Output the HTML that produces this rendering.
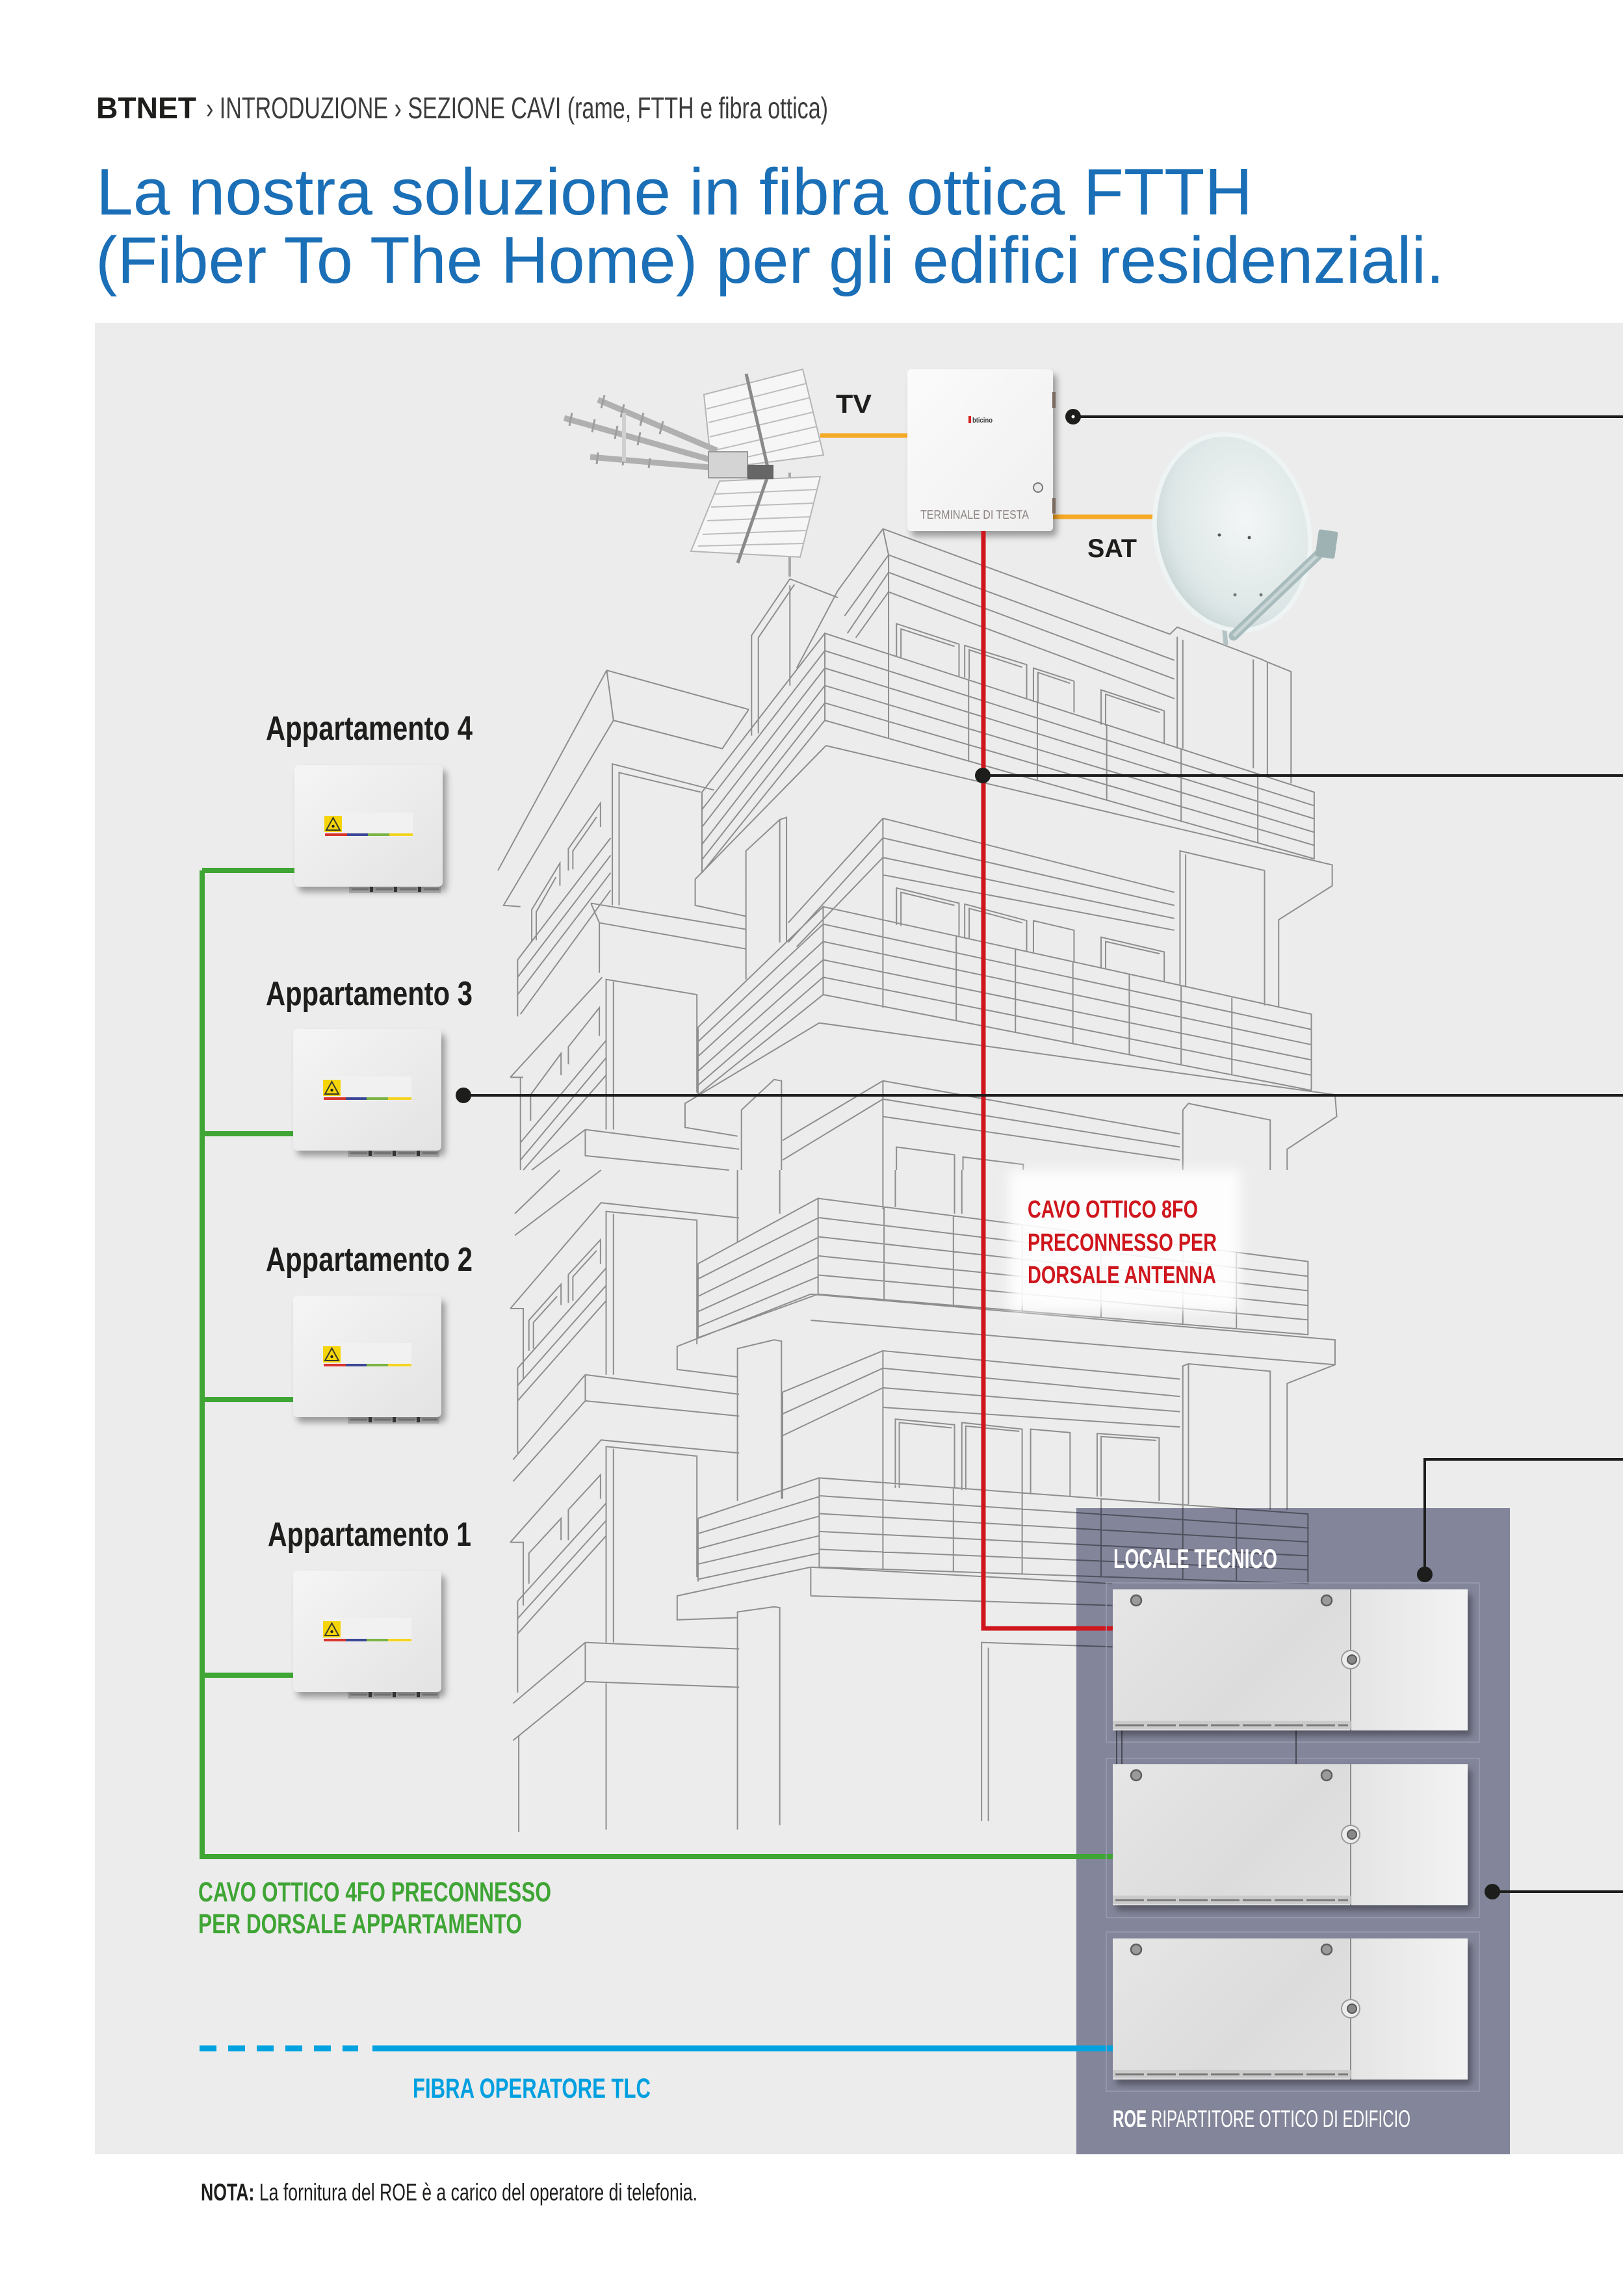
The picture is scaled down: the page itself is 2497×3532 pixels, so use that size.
<!DOCTYPE html>
<html><head><meta charset="utf-8">
<style>
html,body{margin:0;padding:0;background:#fff;}
svg{display:block;}
.b path{vector-effect:non-scaling-stroke;}
.nar{font-family:"Liberation Sans Narrow","Liberation Sans",sans-serif;}
.reg{font-family:"Liberation Sans",sans-serif;}
</style></head>
<body>
<svg width="2497" height="3532" viewBox="0 0 2497 3532" xmlns="http://www.w3.org/2000/svg">
<defs>
  <linearGradient id="gApt" x1="0" y1="0" x2="1" y2="1">
    <stop offset="0" stop-color="#f5f5f5"/><stop offset="1" stop-color="#e3e3e3"/>
  </linearGradient>
  <linearGradient id="gRoe" x1="0" y1="0" x2="1" y2="0.4">
    <stop offset="0" stop-color="#e6e6e6"/><stop offset="0.55" stop-color="#dcdcdc"/><stop offset="1" stop-color="#e4e4e4"/>
  </linearGradient>
  <linearGradient id="gRoe2" x1="0" y1="0" x2="1" y2="0">
    <stop offset="0" stop-color="#e4e4e4"/><stop offset="1" stop-color="#f3f3f3"/>
  </linearGradient>
  <linearGradient id="gTerm" x1="0" y1="0" x2="1" y2="1">
    <stop offset="0" stop-color="#fbfbfb"/><stop offset="1" stop-color="#efefef"/>
  </linearGradient>
  <radialGradient id="gDish" cx="0.6" cy="0.45" r="0.65">
    <stop offset="0" stop-color="#f3f6f6"/><stop offset="0.75" stop-color="#dde6e6"/><stop offset="1" stop-color="#c3d1d1"/>
  </radialGradient>
  <filter id="sh" x="-15%" y="-15%" width="140%" height="140%">
    <feDropShadow dx="6" dy="8" stdDeviation="5" flood-color="#000" flood-opacity="0.35"/>
  </filter>
  <filter id="bl" x="-20%" y="-20%" width="140%" height="140%">
    <feGaussianBlur stdDeviation="9"/>
  </filter>

  <g id="apt">
    <rect x="84" y="184" width="141" height="13" fill="#c4c4c4"/>
    <path d="M88,191 H222" stroke="#9a9a9a" stroke-width="3" stroke-dasharray="26 11"/>
    <rect x="0" y="0" width="228" height="187" rx="7" fill="url(#gApt)" filter="url(#sh)"/>
    <rect x="116" y="187" width="5" height="8" fill="#333"/>
    <rect x="153" y="187" width="5" height="8" fill="#333"/>
    <rect x="190" y="187" width="5" height="8" fill="#333"/>
    <rect x="45" y="73" width="137" height="37" fill="#f1f1f1"/>
    <rect x="46" y="78" width="27" height="25" fill="#f5d40a"/>
    <path d="M59.5,81 L70,100 L49,100 Z" fill="none" stroke="#3a3a2a" stroke-width="2"/>
    <circle cx="59.5" cy="94" r="2.2" fill="#222"/>
    <rect x="47" y="105" width="34" height="4" fill="#d8352e"/>
    <rect x="81" y="105" width="32" height="4" fill="#3c4896"/>
    <rect x="113" y="105" width="33" height="4" fill="#7bb446"/>
    <rect x="146" y="105" width="36" height="4" fill="#f3d321"/>
  </g>

  <g id="roe">
    <rect x="0" y="0" width="546" height="217" fill="url(#gRoe)" filter="url(#sh)"/>
    <rect x="366" y="0" width="180" height="217" fill="url(#gRoe2)"/>
    <line x1="366" y1="0" x2="366" y2="217" stroke="#8a8a8a" stroke-width="2"/>
    <circle cx="36" cy="17" r="8" fill="#9a9a9a" stroke="#5e5e5e" stroke-width="2.5"/>
    <circle cx="329" cy="17" r="8" fill="#9a9a9a" stroke="#5e5e5e" stroke-width="2.5"/>
    <circle cx="366" cy="108" r="14" fill="#ececec" stroke="#9a9a9a" stroke-width="2"/>
    <circle cx="368" cy="108" r="7" fill="#888" stroke="#555" stroke-width="2"/>
    <rect x="0" y="202" width="366" height="13" fill="#cbcbcb"/>
    <path d="M4,209 H362" stroke="#7a7a7a" stroke-width="3" stroke-dasharray="44 5"/>
  </g>
</defs>

<!-- backgrounds -->
<rect x="0" y="0" width="2497" height="3532" fill="#ffffff"/>
<rect x="146" y="497" width="2351" height="2817" fill="#ececec"/>

<!-- header -->
<text class="nar" x="148" y="182" font-size="46" font-weight="bold" fill="#1d1d1b" textLength="154" lengthAdjust="spacingAndGlyphs">BTNET</text>
<text class="nar" x="317" y="182" font-size="46" fill="#3c3c3c" textLength="957" lengthAdjust="spacingAndGlyphs">› INTRODUZIONE › SEZIONE CAVI (rame, FTTH e fibra ottica)</text>
<text class="reg" x="148" y="330" font-size="101" fill="#1a6fb7" textLength="1779" lengthAdjust="spacingAndGlyphs">La nostra soluzione in fibra ottica FTTH</text>
<text class="reg" x="147" y="435" font-size="101" fill="#1a6fb7" textLength="2075" lengthAdjust="spacingAndGlyphs">(Fiber To The Home) per gli edifici residenziali.</text>

<!-- building (upper part) -->
<g class="b" transform="translate(740,780) scale(0.8673,0.6697)" fill="none" stroke="#8e8e8e" stroke-width="2">
<path d="
M548,165 L633,208 M548,165 L480,295 L480,525 M556,178 L492,300 L492,520 M548,180 L548,410
M713,50 L1222,292 L1235,276 L1385,350 L1395,356 L1437,378 L1437,635
M713,50 L723,110 L1230,352 M723,150 L1230,395 M723,195 L1230,440
M1235,298 L1235,555 M1245,305 L1245,555 M1370,350 L1370,600 M1395,358 L1395,615
M713,50 L633,192 L560,370 M723,110 L645,250 M723,150 L650,290 M723,195 L665,300 M723,110 L723,525
M737,345 L737,268 L848,315 L848,390 M745,348 L745,280 L840,320
M858,392 L858,318 L968,362 L968,440 M866,395 L866,328 L960,368
M980,448 L980,370 L1052,400 L1052,472 M988,450 L988,380 L1045,405
M1100,500 L1100,420 L1212,468 L1212,545 M1108,503 L1108,430 L1204,472
M610,290 L1478,655 L1478,808 L610,490 Z
M610,330 L1478,686 M610,370 L1478,716 M610,410 L1478,747 M610,450 L1478,777
M723,337 L723,531 M865,397 L865,583 M987,448 L987,628 M1110,500 L1110,673 M1242,556 L1242,721 M1378,613 L1378,771
M610,290 L392,655 M610,330 L392,695 M610,370 L392,735 M610,410 L392,775 M610,450 L392,810 M610,490 L392,840 M392,655 L392,840
M612,548 L1510,822 L1510,870 L1415,948 L1415,1150
M612,548 L380,855 L380,915 L470,940
M470,1085 L470,790 L530,718 L542,713 L542,1000 M530,718 L530,1000
M713,715 L713,1150 M713,715 L1230,885 M713,760 L1230,915 M713,805 L1230,945 M713,845 L1230,972
M713,715 L545,955 M713,760 L545,1000 M713,805 L560,1010
M1240,1100 L1240,790 L1390,835 L1390,1145 M1250,1100 L1250,798
M737,960 L737,875 L848,910 L848,985 M745,962 L745,885 L840,915
M858,990 L858,912 L968,950 L968,1020 M866,992 L866,922 L960,955
M980,1025 L980,950 L1052,972 L1052,1045
M1100,1060 L1100,988 L1212,1022 L1212,1090 M1108,1062 L1108,998 L1204,1026
M607,918 L1473,1165 L1473,1340 L607,1120 Z
M607,958 L1473,1200 M607,998 L1473,1235 M607,1040 L1473,1270 M607,1080 L1473,1305
M713,948 L713,1147 M843,985 L843,1180 M948,1015 L948,1207 M1050,1044 L1050,1232 M1150,1073 L1150,1258 M1242,1099 L1242,1281 M1332,1125 L1332,1304
M607,918 L385,1195 M607,958 L385,1228 M607,998 L385,1262 M607,1040 L385,1296 M607,1080 L385,1328 M607,1120 L385,1350 M385,1195 L385,1350
M600,1185 L1515,1350 L1518,1400 L1430,1475 L1430,1523
M600,1185 L362,1370 L362,1425 L455,1445
M713,1318 L713,1523 M713,1318 L1240,1440 M713,1360 L1240,1470 M713,1400 L1240,1500
M713,1318 L535,1455 M713,1360 L535,1500
M1245,1523 L1245,1385 L1255,1370 L1400,1408 L1400,1523
M462,1523 L462,1385 L520,1315 L533,1318 L533,1523
M737,1523 L737,1470 L840,1488 L840,1523 M855,1523 L855,1493 L962,1510 L962,1523
M30,835 L223,375 L475,465 M223,375 L235,490 L428,555 L475,465 M235,490 L40,915 L70,918
M233,915 L233,590 L413,650 M245,915 L245,610 L390,655
M155,835 L155,785 L212,680 L212,735 M163,832 L163,790 L205,712
M90,1000 L90,925 L140,818 L140,870 M98,995 L98,930 L133,850
M230,760 L65,1040 M230,800 L65,1080 M230,840 L65,1120 M230,880 L70,1165 M65,1040 L65,1170
M195,910 L470,970 M210,955 L470,1015 M195,910 L210,955 L210,1070
M222,1430 L222,1085 L383,1120 L383,1345 M235,1430 L235,1090
M155,1280 L155,1240 L210,1150 L210,1215 M88,1410 L88,1350 L142,1255 L142,1305
M222,1225 L70,1460 M222,1265 L70,1500 M222,1305 L75,1523
M52,1310 L75,1310 M52,1310 L215,1080 M70,1310 L70,1523
M185,1430 L458,1475 M185,1430 L185,1490 L440,1523 M185,1430 L90,1523
"/>
</g>

<!-- building (lower part) -->
<g class="b" transform="translate(740,1800) scale(0.8673,0.6697)" fill="none" stroke="#8e8e8e" stroke-width="2">
<path d="
M60,150 L213,0 M60,100 L140,0
M52,318 L213,75 L458,110 M52,318 L75,318 L75,480
M222,470 L222,95 L383,115 L383,400 M235,470 L235,100
M85,415 L85,345 L142,262 L142,310 M93,410 L93,350 L135,290
M155,305 L155,240 L212,160 L212,215 M163,300 L163,245 L205,185
M65,455 L222,225 M65,495 L222,265 M65,530 L222,300 M65,455 L65,650
M185,470 L458,515 M185,470 L185,530 L458,565 M185,470 L57,665 M185,530 L57,715
M52,855 L213,620 L458,650 M52,855 L75,855 L75,1000
M222,1085 L222,635 L383,657 L383,935 M235,1085 L235,640
M85,950 L85,880 L142,800 L142,850 M155,850 L155,780 L212,700 L212,755
M65,990 L222,765 M65,1030 L222,805 M65,1065 L222,840 M65,990 L65,1200
M185,1085 L458,1100 M185,1085 L185,1175 L458,1188 M185,1085 L57,1225 M185,1175 L57,1310
M67,1300 L67,1520 M222,1175 L222,1515
M455,0 L455,165 M530,0 L530,100
M455,760 L455,410 L520,390 L533,393 L533,755
M455,1515 L455,1015 L520,1003 L530,1005 L530,1505
M713,0 L713,90 M735,0 L735,85 M840,0 L840,100 M853,0 L853,100
M598,65 L1467,210 L1467,378 L598,285 Z
M598,109 L1467,244 M598,153 L1467,277 M598,197 L1467,311 M598,241 L1467,344
M715,85 L715,298 M838,105 L838,311 M960,125 L960,324 M1100,149 L1100,339 M1245,173 L1245,354 M1340,189 L1340,364
M598,65 L385,215 M598,110 L385,250 M598,155 L385,290 M598,200 L385,325 M598,245 L385,360 M598,285 L385,385 M385,215 L385,385
M585,285 L1515,390 L1515,447 L1430,490 L1430,780
M585,345 L1515,447
M585,285 L348,405 L348,458 L455,475
M713,730 L713,415 L1240,480 M713,455 L1240,520 M713,500 L1240,555 M713,545 L1240,590
M713,415 L535,510 M713,455 L535,560 M713,500 L535,610 M535,510 L535,755
M1245,770 L1245,450 L1255,445 L1400,462 L1400,780 M1255,770 L1255,447
M735,730 L735,572 L840,585 L840,730 M742,730 L742,580 L835,592
M853,735 L853,580 L960,595 L960,740 M860,735 L860,588 L955,600
M975,745 L975,595 L1045,603 L1045,750
M1093,750 L1093,605 L1203,615 L1203,760 M1100,750 L1100,612 L1198,621
M600,707 L1467,790 L1467,950 L600,912 Z
M600,748 L1467,822 M600,789 L1467,854 M600,830 L1467,886 M600,871 L1467,918
M713,718 L713,917 M838,730 L838,922 M960,742 L960,928 M1100,755 L1100,934 M1245,769 L1245,940 M1340,778 L1340,944
M600,707 L385,800 M600,750 L385,835 M600,795 L385,870 M600,840 L385,905 M600,880 L385,940 M385,800 L385,945
M585,912 L1120,950 M585,912 L348,978 L348,1033 L455,1028 M585,978 L1120,1000 M585,912 L585,978
M888,1495 L888,1085 L1120,1095 M900,1495 L900,1097
"/>
</g>

<!-- white label area behind red text -->
<rect x="1552" y="1800" width="356" height="217" fill="#ffffff" fill-opacity="0.9" filter="url(#bl)"/>

<!-- locale tecnico dark panel -->
<rect x="1656" y="2320" width="667" height="994" fill="rgb(142,144,167)" style="mix-blend-mode:multiply"/>

<!-- antenna -->
<g>
  <line x1="1215" y1="727" x2="1215" y2="887" stroke="#a8a8a8" stroke-width="4"/>
  <polygon points="1083,607 1235,568 1267,700 1095,722" fill="#f6f6f6" stroke="#b5b5b5" stroke-width="2"/>
  <path d="M1087,629 L1240,590 M1090,650 L1245,612 M1092,672 L1251,634 M1094,694 L1257,656 M1096,715 L1262,678" stroke="#bdbdbd" stroke-width="2" fill="none"/>
  <polygon points="1107,740 1262,733 1231,857 1063,848" fill="#f6f6f6" stroke="#b5b5b5" stroke-width="2"/>
  <path d="M1100,760 L1257,753 M1094,780 L1252,774 M1088,801 L1246,795 M1081,822 L1241,816 M1074,840 L1236,836" stroke="#bdbdbd" stroke-width="2" fill="none"/>
  <line x1="1148" y1="575" x2="1183" y2="727" stroke="#8a8a8a" stroke-width="5"/>
  <line x1="1183" y1="727" x2="1135" y2="866" stroke="#8a8a8a" stroke-width="5"/>
  <path d="M920,615 L1103,693 M868,643 L1103,710 M908,703 L1103,720" stroke="#b0b0b0" stroke-width="9" fill="none"/>
  <path d="M930,608 L925,628 M960,622 L955,642 M990,635 L985,655 M1020,648 L1015,668 M880,635 L876,655 M915,645 L911,665 M950,655 L946,675 M985,665 L981,685 M920,696 L918,714 M960,700 L958,716 M1000,705 L998,720" stroke="#9e9e9e" stroke-width="3" fill="none"/>
  <line x1="960" y1="635" x2="960" y2="710" stroke="#d0d0d0" stroke-width="6"/>
  <rect x="1090" y="695" width="60" height="40" fill="#d4d4d4" stroke="#999" stroke-width="2"/>
  <rect x="1150" y="715" width="40" height="22" fill="#666"/>
</g>

<!-- orange connections -->
<line x1="1262" y1="670" x2="1398" y2="670" stroke="#f6a924" stroke-width="7"/>
<line x1="1618" y1="795" x2="1779" y2="795" stroke="#f6a924" stroke-width="7"/>

<!-- terminale di testa -->
<g>
  <rect x="1396" y="568" width="224" height="249" rx="6" fill="url(#gTerm)" filter="url(#sh)"/>
  <rect x="1619" y="603" width="5" height="25" fill="#7c6c62"/>
  <rect x="1619" y="766" width="5" height="24" fill="#7c6c62"/>
  <rect x="1490" y="640" width="4" height="11" fill="#d4221e"/>
  <text class="nar" x="1496" y="650" font-size="11" font-weight="bold" fill="#3a3a3a" textLength="31" lengthAdjust="spacingAndGlyphs">bticino</text>
  <circle cx="1597" cy="750" r="7" fill="#e9e9e9" stroke="#777" stroke-width="2"/>
  <text class="nar" x="1416" y="798" font-size="18" fill="#8e8583" textLength="167" lengthAdjust="spacingAndGlyphs">TERMINALE DI TESTA</text>
</g>

<!-- satellite dish -->
<g>
  <line x1="1880" y1="930" x2="1886" y2="992" stroke="#b3c3c3" stroke-width="7"/>
  <ellipse cx="1896" cy="819" rx="118" ry="152" transform="rotate(-12 1896 819)" fill="url(#gDish)" stroke="#eef3f3" stroke-width="7"/>
  <path d="M1898,978 L2040,842" stroke="#a9bcbd" stroke-width="15" stroke-linecap="round" fill="none"/>
  <path d="M1898,978 L2040,842" stroke="#c9d6d6" stroke-width="5" fill="none"/>
  <rect x="2026" y="816" width="30" height="42" rx="3" fill="#9fb2b3" transform="rotate(8 2041 837)"/>
  <circle cx="1876" cy="823" r="2.5" fill="#555"/>
  <circle cx="1922" cy="827" r="2.5" fill="#555"/>
  <circle cx="1900" cy="915" r="2.5" fill="#777"/>
  <circle cx="1940" cy="915" r="2.5" fill="#777"/>
</g>

<!-- red fibre -->
<path d="M1513,817 L1513,2505 L1714,2505" stroke="#d0161d" stroke-width="7" fill="none"/>

<!-- green fibre -->
<path d="M311,1339 L311,2856 L1714,2856" stroke="#3fa535" stroke-width="8" fill="none"/>
<path d="M311,1339 H456 M311,1744 H456 M311,2153 H456 M311,2577 H456" stroke="#3fa535" stroke-width="8" fill="none"/>

<!-- blue fibre -->
<path d="M307,3151 H551" stroke="#00a3e0" stroke-width="9" stroke-dasharray="26 18" fill="none"/>
<line x1="573" y1="3151" x2="1714" y2="3151" stroke="#00a3e0" stroke-width="9"/>

<!-- black copper lines -->
<g stroke="#1d1d1b" stroke-width="4" fill="none">
  <line x1="1651" y1="641" x2="2497" y2="641"/>
  <line x1="1512" y1="1193" x2="2497" y2="1193"/>
  <line x1="713" y1="1685" x2="2497" y2="1685"/>
  <path d="M2497,2245 L2192,2245 L2192,2422"/>
  <line x1="2296" y1="2910" x2="2497" y2="2910"/>
</g>

<!-- apartment boxes -->
<use href="#apt" x="453" y="1177"/>
<use href="#apt" x="451" y="1583"/>
<use href="#apt" x="451" y="1993"/>
<use href="#apt" x="451" y="2416"/>

<!-- ROE frames and boxes -->
<g fill="none" stroke="#9a9cb1" stroke-width="1.5">
  <rect x="1702" y="2435" width="574" height="245"/>
  <rect x="1702" y="2705" width="574" height="245"/>
  <rect x="1702" y="2972" width="574" height="245"/>
</g>
<path d="M1718,2662 V2714 M1726,2662 V2714 M1994,2662 V2714" stroke="#4a4a55" stroke-width="2" fill="none"/>
<use href="#roe" x="1712" y="2445"/>
<use href="#roe" x="1712" y="2714"/>
<use href="#roe" x="1712" y="2982"/>

<!-- dots -->
<g fill="#1d1d1b">
  <circle cx="1651" cy="641" r="12"/>
  <circle cx="1512" cy="1193" r="12"/>
  <circle cx="713" cy="1685" r="12"/>
  <circle cx="2192" cy="2422" r="12"/>
  <circle cx="2296" cy="2910" r="12"/>
</g>
<circle cx="1651" cy="641" r="2.5" fill="#fff"/>

<!-- labels -->
<text class="nar" x="1286" y="635" font-size="40" font-weight="bold" fill="#1d1d1b" textLength="55" lengthAdjust="spacingAndGlyphs">TV</text>
<text class="nar" x="1673" y="857" font-size="40" font-weight="bold" fill="#1d1d1b" textLength="76" lengthAdjust="spacingAndGlyphs">SAT</text>

<text class="nar" x="409" y="1138" font-size="52" font-weight="bold" fill="#1d1d1b" textLength="318" lengthAdjust="spacingAndGlyphs">Appartamento 4</text>
<text class="nar" x="409" y="1546" font-size="52" font-weight="bold" fill="#1d1d1b" textLength="318" lengthAdjust="spacingAndGlyphs">Appartamento 3</text>
<text class="nar" x="409" y="1955" font-size="52" font-weight="bold" fill="#1d1d1b" textLength="318" lengthAdjust="spacingAndGlyphs">Appartamento 2</text>
<text class="nar" x="412" y="2378" font-size="52" font-weight="bold" fill="#1d1d1b" textLength="313" lengthAdjust="spacingAndGlyphs">Appartamento 1</text>

<text class="nar" x="1581" y="1873" font-size="38" font-weight="bold" fill="#cf161d" textLength="262" lengthAdjust="spacingAndGlyphs">CAVO OTTICO 8FO</text>
<text class="nar" x="1581" y="1924" font-size="38" font-weight="bold" fill="#cf161d" textLength="291" lengthAdjust="spacingAndGlyphs">PRECONNESSO PER</text>
<text class="nar" x="1581" y="1974" font-size="38" font-weight="bold" fill="#cf161d" textLength="290" lengthAdjust="spacingAndGlyphs">DORSALE ANTENNA</text>

<text class="nar" x="1713" y="2412" font-size="42" font-weight="bold" fill="#ffffff" textLength="252" lengthAdjust="spacingAndGlyphs">LOCALE TECNICO</text>

<text class="nar" x="305" y="2925" font-size="43" font-weight="bold" fill="#3fa535" textLength="543" lengthAdjust="spacingAndGlyphs">CAVO OTTICO 4FO PRECONNESSO</text>
<text class="nar" x="305" y="2974" font-size="43" font-weight="bold" fill="#3fa535" textLength="498" lengthAdjust="spacingAndGlyphs">PER DORSALE APPARTAMENTO</text>

<text class="nar" x="635" y="3227" font-size="43" font-weight="bold" fill="#00a0e0" textLength="366" lengthAdjust="spacingAndGlyphs">FIBRA OPERATORE TLC</text>

<text class="nar" x="1712" y="3272" font-size="37" fill="#ffffff" textLength="458" lengthAdjust="spacingAndGlyphs"><tspan font-weight="bold">ROE</tspan> RIPARTITORE OTTICO DI EDIFICIO</text>

<text class="nar" x="309" y="3385" font-size="37" fill="#1d1d1b" textLength="764" lengthAdjust="spacingAndGlyphs"><tspan font-weight="bold">NOTA:</tspan> La fornitura del ROE è a carico del operatore di telefonia.</text>
</svg>
</body></html>
